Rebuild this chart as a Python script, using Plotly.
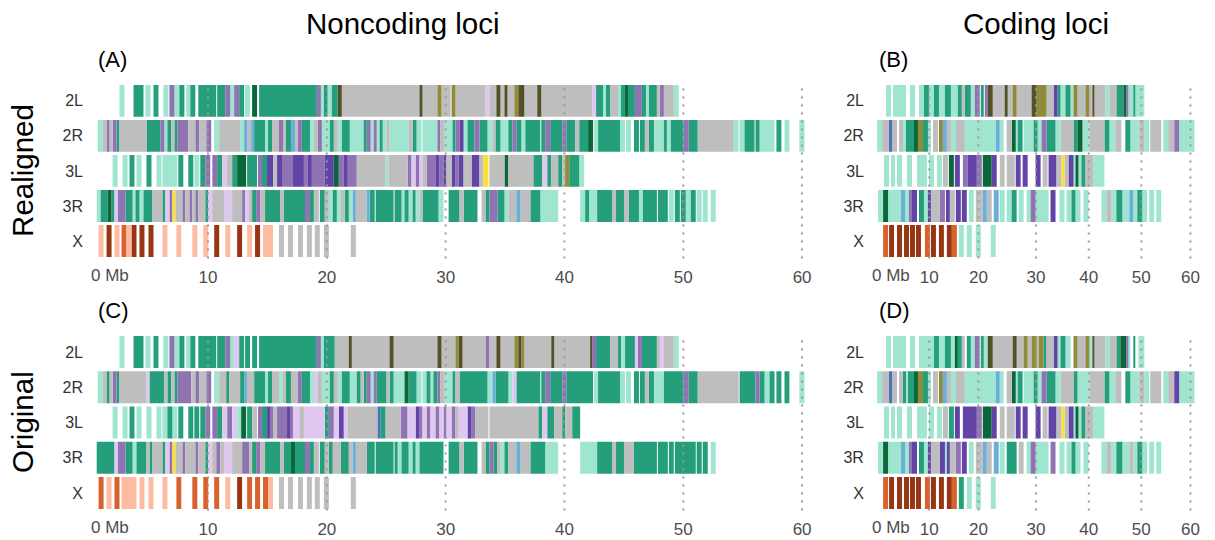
import plotly.graph_objects as go

# Chromosome arms, top to bottom
ROWS = ["2L", "2R", "3L", "3R", "X"]

# Segment colour classes
PALETTE = {
    "m": "#9fe5d0",  # light teal
    "t": "#259e7b",  # teal
    "g": "#0b6639",  # dark green
    "p": "#8f73b3",  # purple
    "P": "#6243a6",  # dark purple
    "l": "#dfc8f0",  # lavender
    "y": "#bebebe",  # grey
    "o": "#8f8b3b",  # olive
    "O": "#535027",  # dark olive
    "Y": "#fde035",  # yellow
    "b": "#6aafd8",  # light blue
    "B": "#4a70b8",  # blue
    "r": "#983513",  # rust
    "e": "#d8622d",  # orange
    "s": "#fdbca2",  # salmon
}

# ---------------- Noncoding loci, realigned (A) ----------------
A_2L = [(2.55, 2.97, "m"), (3.73, 4.57, "t"), (4.73, 5.15, "m"), (5.41, 5.83, "t"), (6.24, 6.66, "m"),
        (6.75, 7.17, "p"), (7.17, 7.59, "m"), (7.59, 8.01, "t"), (8.17, 8.51, "m"), (8.51, 8.93, "t"),
        (9.18, 10.69, "t"), (10.77, 11.45, "t"), (11.45, 11.87, "p"), (11.87, 12.2, "m"), (12.2, 12.62, "p"),
        (12.62, 13.04, "t"), (13.12, 13.54, "m"), (13.71, 14.13, "g"), (14.3, 19.16, "t"), (19.16, 19.5, "p"),
        (19.5, 19.75, "m"), (19.75, 20.06, "t"), (20.06, 20.42, "m"), (20.42, 20.92, "t"), (20.92, 21.26, "O"),
        (21.26, 27.8, "y"), (27.8, 28.05, "O"), (28.05, 29.31, "y"), (29.31, 29.65, "o"), (29.65, 30.42, "y"),
        (30.5, 30.83, "o"), (30.83, 33.35, "y"), (33.35, 33.69, "l"), (33.69, 34.27, "y"), (34.27, 34.61, "O"),
        (34.61, 34.95, "y"), (34.95, 35.2, "O"), (35.2, 35.78, "y"), (35.78, 36.12, "o"), (36.12, 36.62, "O"),
        (36.62, 37.71, "y"), (37.71, 38.05, "O"), (38.05, 42.33, "y"), (42.33, 42.66, "l"), (42.66, 43.25, "t"),
        (43.25, 43.5, "m"), (43.5, 43.84, "t"), (43.84, 44.51, "y"), (44.51, 44.76, "m"), (44.76, 45.1, "t"),
        (45.1, 45.35, "g"), (45.35, 45.93, "t"), (45.93, 46.52, "p"), (46.52, 46.86, "t"), (46.86, 47.11, "m"),
        (47.11, 47.78, "t"), (47.78, 48.03, "y"), (48.03, 48.37, "p"), (48.37, 49.2, "y"), (49.2, 49.62, "m")]
A_2R = [(0.71, 1.13, "m"), (1.13, 1.46, "y"), (1.46, 1.72, "p"), (1.72, 1.97, "y"), (1.97, 2.3, "p"),
        (2.3, 2.55, "t"), (2.55, 4.82, "y"), (4.82, 5.99, "t"), (5.99, 6.33, "p"), (6.33, 6.58, "m"),
        (6.58, 6.92, "t"), (6.92, 7.17, "y"), (7.17, 7.42, "t"), (7.42, 8.34, "p"), (8.34, 8.93, "y"),
        (8.93, 9.26, "p"), (9.26, 9.85, "y"), (9.85, 10.27, "p"), (10.52, 10.94, "m"), (10.94, 12.7, "y"),
        (12.7, 13.04, "m"), (13.04, 13.29, "b"), (13.29, 13.63, "y"), (13.63, 13.88, "b"), (13.88, 14.8, "t"),
        (14.8, 15.05, "m"), (15.05, 15.39, "t"), (15.39, 15.97, "y"), (15.97, 16.31, "p"), (16.31, 16.56, "y"),
        (16.56, 16.98, "t"), (16.98, 17.32, "b"), (17.32, 17.57, "y"), (17.57, 17.9, "p"), (17.9, 18.58, "t"),
        (18.58, 18.91, "m"), (18.91, 19.25, "y"), (19.25, 19.58, "p"), (19.58, 20.25, "m"), (20.25, 20.59, "t"),
        (20.59, 20.92, "y"), (20.92, 21.26, "m"), (21.26, 21.93, "t"), (21.93, 23.1, "m"), (23.1, 23.36, "t"),
        (23.36, 23.69, "p"), (23.69, 23.94, "m"), (23.94, 24.2, "p"), (24.2, 24.45, "m"), (24.45, 24.7, "t"),
        (24.7, 25.03, "m"), (25.03, 25.28, "y"), (25.28, 26.88, "m"), (26.88, 27.22, "y"), (27.22, 27.55, "t"),
        (27.55, 27.97, "m"), (28.05, 29.31, "m"), (29.31, 29.56, "p"), (29.56, 29.9, "y"), (29.9, 30.58, "m"),
        (30.58, 30.83, "t"), (30.83, 31.17, "p"), (31.17, 31.51, "P"), (31.51, 31.84, "m"), (31.84, 32.43, "t"),
        (32.43, 32.85, "p"), (32.85, 33.52, "t"), (33.52, 33.94, "m"), (33.94, 34.19, "y"), (34.19, 34.61, "t"),
        (34.61, 35.28, "m"), (35.28, 35.62, "t"), (35.62, 35.95, "p"), (35.95, 36.37, "t"), (36.37, 36.71, "m"),
        (36.71, 37.97, "t"), (38.05, 38.38, "t"), (38.38, 38.8, "p"), (38.8, 39.81, "t"), (39.81, 40.15, "p"),
        (40.15, 40.9, "t"), (40.9, 41.24, "y"), (41.24, 41.99, "t"), (41.99, 42.41, "g"), (42.49, 42.83, "m"),
        (42.83, 44.68, "t"), (44.68, 45.1, "m"), (45.18, 45.6, "m"), (45.85, 46.27, "t"), (46.35, 46.77, "t"),
        (46.77, 47.11, "y"), (47.11, 47.53, "t"), (47.53, 48.37, "m"), (48.37, 48.62, "t"), (48.62, 48.95, "m"),
        (48.95, 50.04, "t"), (50.04, 50.46, "p"), (50.46, 51.22, "t"), (51.22, 54.24, "y"), (54.24, 54.66, "m"),
        (54.74, 55.16, "m"), (55.16, 56.0, "t"), (56.08, 56.42, "t"), (56.42, 57.68, "m"), (57.84, 58.26, "t"),
        (58.52, 58.93, "m"), (59.77, 60.2, "m")]
A_3L = [(1.97, 2.39, "m"), (2.81, 3.23, "m"), (3.39, 3.81, "t"), (3.98, 4.4, "m"), (4.82, 5.24, "t"),
        (5.66, 6.08, "m"), (6.16, 7.42, "m"), (7.5, 7.92, "t"), (8.34, 8.76, "t"), (8.85, 9.26, "m"),
        (9.35, 9.77, "t"), (9.77, 10.19, "p"), (10.36, 10.77, "p"), (10.77, 11.19, "t"), (11.19, 11.61, "l"),
        (11.61, 12.03, "y"), (12.03, 12.45, "t"), (12.45, 13.21, "g"), (13.29, 14.13, "t"), (14.21, 14.55, "p"),
        (14.55, 14.97, "t"), (14.97, 15.47, "P"), (15.47, 15.81, "y"), (15.81, 16.23, "P"), (16.23, 17.15, "p"),
        (17.15, 18.07, "P"), (18.07, 18.41, "p"), (18.41, 18.74, "P"), (18.74, 19.83, "p"), (19.83, 20.59, "P"),
        (20.59, 21.01, "g"), (21.01, 21.43, "p"), (21.43, 21.76, "P"), (21.76, 22.52, "p"), (22.52, 24.95, "y"),
        (24.95, 25.2, "m"), (25.2, 26.8, "y"), (26.8, 27.13, "p"), (27.13, 27.47, "l"), (27.47, 27.8, "p"),
        (27.8, 28.05, "l"), (28.05, 28.39, "y"), (28.39, 29.14, "p"), (29.14, 29.48, "P"), (29.48, 29.82, "p"),
        (29.82, 30.07, "P"), (30.07, 30.5, "y"), (30.5, 30.83, "P"), (30.83, 31.09, "p"), (31.09, 31.51, "P"),
        (31.51, 32.18, "y"), (32.18, 32.85, "P"), (32.85, 33.18, "y"), (33.18, 33.6, "Y"), (33.69, 34.95, "y"),
        (34.95, 35.28, "g"), (35.28, 37.38, "y"), (37.38, 38.13, "t"), (38.13, 38.55, "l"), (38.55, 38.89, "t"),
        (38.89, 39.47, "y"), (39.47, 39.81, "t"), (39.81, 40.06, "y"), (40.06, 40.4, "o"), (40.4, 41.24, "t"),
        (41.24, 41.66, "m")]
A_3R = [(0.63, 0.96, "m"), (0.96, 1.55, "t"), (1.55, 1.88, "g"), (1.88, 2.13, "t"), (2.13, 2.39, "l"),
        (2.39, 3.06, "p"), (3.06, 3.65, "t"), (3.65, 3.9, "m"), (3.9, 4.23, "t"), (4.23, 4.57, "m"),
        (4.57, 5.32, "t"), (5.32, 6.16, "y"), (6.16, 6.41, "t"), (6.41, 6.75, "l"), (6.75, 7.0, "p"),
        (7.0, 7.25, "Y"), (7.25, 7.84, "y"), (7.84, 8.09, "p"), (8.09, 8.43, "y"), (8.43, 8.68, "p"),
        (8.68, 8.93, "y"), (8.93, 9.18, "p"), (9.18, 9.77, "y"), (9.77, 10.02, "t"), (10.02, 10.36, "l"),
        (10.36, 11.36, "y"), (11.36, 12.03, "l"), (12.03, 12.87, "y"), (12.87, 13.12, "p"), (13.12, 13.46, "l"),
        (13.46, 13.71, "y"), (13.71, 14.05, "t"), (14.05, 14.38, "p"), (14.38, 14.8, "y"), (14.8, 16.06, "t"),
        (16.06, 16.39, "y"), (16.39, 18.16, "t"), (18.16, 18.58, "p"), (18.58, 18.91, "t"), (18.91, 19.33, "y"),
        (19.41, 19.83, "t"), (19.83, 20.17, "y"), (20.17, 20.5, "m"), (20.5, 20.84, "t"), (20.84, 21.18, "m"),
        (21.18, 21.51, "y"), (21.51, 21.85, "t"), (21.85, 22.18, "m"), (22.18, 22.44, "b"), (22.44, 23.36, "y"),
        (23.36, 23.61, "b"), (23.61, 24.03, "t"), (24.11, 25.62, "t"), (25.7, 26.29, "t"), (26.29, 26.54, "m"),
        (26.54, 26.88, "t"), (26.88, 27.22, "m"), (27.22, 27.47, "t"), (27.47, 27.8, "m"), (27.8, 28.05, "y"),
        (28.05, 29.4, "t"), (29.4, 29.82, "m"), (30.25, 31.17, "t"), (31.17, 31.51, "y"), (31.51, 32.68, "t"),
        (33.02, 33.35, "y"), (33.35, 33.69, "t"), (33.69, 34.36, "p"), (34.36, 34.95, "t"), (34.95, 35.28, "m"),
        (35.28, 35.95, "y"), (35.95, 36.29, "b"), (36.29, 37.13, "y"), (37.13, 37.97, "t"), (37.97, 39.47, "m"),
        (41.32, 41.74, "m"), (41.74, 42.07, "t"), (42.07, 42.75, "m"), (42.75, 44.0, "t"), (44.0, 44.34, "y"),
        (44.34, 45.01, "t"), (45.01, 45.43, "y"), (45.43, 46.27, "t"), (46.27, 46.6, "m"), (46.6, 47.78, "t"),
        (47.86, 48.7, "t"), (48.79, 49.2, "m"), (49.29, 49.71, "t"), (49.79, 50.21, "t"), (50.21, 50.63, "m"),
        (50.63, 51.05, "t"), (51.13, 51.55, "m"), (51.64, 52.06, "m"), (52.31, 52.73, "m")]
A_X = [(0.79, 1.21, "s"), (1.46, 1.88, "r"), (2.13, 2.55, "s"), (2.72, 3.14, "e"), (3.14, 3.56, "s"),
       (3.56, 3.98, "r"), (4.23, 4.65, "r"), (4.99, 5.41, "r"), (6.16, 6.58, "s"), (7.34, 7.75, "s"),
       (8.68, 9.1, "s"), (9.6, 10.02, "s"), (10.52, 10.94, "r"), (11.45, 11.87, "s"), (12.45, 12.87, "r"),
       (13.29, 13.71, "s"), (13.96, 14.38, "r"), (14.63, 15.47, "s"), (15.97, 16.39, "y"), (16.73, 17.15, "y"),
       (17.57, 17.99, "y"), (18.32, 18.74, "y"), (18.99, 19.41, "y"), (19.75, 20.17, "y"), (22.02, 22.44, "y")]

# ---------------- Noncoding loci, original (C) ----------------
C_2L = [(2.55, 2.97, "m"), (3.73, 4.57, "t"), (4.73, 5.15, "m"), (5.41, 5.83, "t"), (6.24, 6.66, "m"),
        (6.75, 7.17, "p"), (7.17, 7.59, "m"), (7.59, 8.01, "t"), (8.17, 8.51, "m"), (8.51, 8.93, "t"),
        (9.18, 10.69, "t"), (10.77, 11.45, "t"), (11.45, 11.87, "p"), (11.87, 12.2, "m"), (12.2, 12.62, "l"),
        (12.62, 13.04, "t"), (13.12, 13.54, "t"), (13.71, 14.13, "t"), (14.3, 19.16, "t"), (19.16, 19.5, "p"),
        (19.5, 19.75, "m"), (19.75, 20.67, "t"), (20.67, 21.85, "y"), (21.85, 22.1, "O"), (22.1, 25.28, "y"),
        (25.28, 25.62, "O"), (25.62, 29.31, "y"), (29.31, 29.65, "O"), (29.65, 30.83, "y"), (30.83, 31.09, "o"),
        (31.09, 31.42, "O"), (31.42, 33.35, "y"), (33.35, 33.69, "p"), (33.69, 34.27, "y"), (34.27, 34.61, "O"),
        (34.61, 35.78, "y"), (35.78, 36.12, "o"), (36.12, 36.37, "O"), (36.37, 36.62, "o"), (36.62, 38.89, "y"),
        (38.89, 39.14, "O"), (39.14, 42.16, "y"), (42.16, 42.33, "O"), (42.33, 42.66, "p"), (42.66, 43.84, "t"),
        (43.84, 44.51, "y"), (44.51, 44.76, "t"), (44.76, 45.1, "m"), (45.1, 45.93, "t"), (45.93, 46.18, "l"),
        (46.18, 46.52, "p"), (46.52, 47.78, "t"), (47.78, 48.03, "y"), (48.03, 48.37, "l"), (48.37, 49.2, "y"),
        (49.2, 49.62, "m")]
C_2R = [(0.71, 1.13, "m"), (1.13, 1.46, "y"), (1.46, 1.72, "t"), (1.72, 1.97, "y"), (1.97, 2.3, "p"),
        (2.3, 2.55, "t"), (2.55, 4.82, "y"), (4.82, 5.07, "l"), (5.07, 6.33, "t"), (6.33, 6.58, "y"),
        (6.58, 6.92, "t"), (6.92, 7.17, "y"), (7.17, 7.42, "t"), (7.42, 8.59, "p"), (8.59, 8.93, "y"),
        (8.93, 9.26, "p"), (9.26, 9.85, "y"), (9.85, 10.27, "p"), (10.52, 10.94, "m"), (10.94, 11.53, "y"),
        (11.53, 11.78, "t"), (11.78, 12.7, "y"), (12.7, 13.04, "t"), (13.04, 13.29, "b"), (13.29, 13.88, "y"),
        (13.88, 14.8, "t"), (14.8, 15.05, "m"), (15.05, 15.39, "t"), (15.39, 15.97, "y"), (15.97, 16.31, "m"),
        (16.31, 16.56, "y"), (16.56, 16.98, "t"), (16.98, 17.57, "y"), (17.57, 17.9, "p"), (17.9, 18.58, "t"),
        (18.58, 18.91, "m"), (18.91, 19.25, "l"), (19.25, 19.58, "y"), (19.58, 20.25, "m"), (20.25, 20.59, "t"),
        (20.59, 20.92, "y"), (20.92, 21.26, "m"), (21.26, 21.93, "t"), (21.93, 22.52, "m"), (22.52, 22.85, "t"),
        (22.85, 23.1, "y"), (23.1, 23.36, "t"), (23.36, 23.69, "p"), (23.69, 23.94, "m"), (23.94, 24.2, "p"),
        (24.2, 25.03, "t"), (25.03, 25.28, "y"), (25.28, 25.62, "t"), (25.62, 26.54, "m"), (26.54, 26.88, "g"),
        (26.88, 27.55, "t"), (27.55, 27.97, "m"), (28.05, 28.39, "m"), (28.39, 28.72, "t"), (28.72, 28.97, "m"),
        (28.97, 29.31, "t"), (29.31, 29.56, "p"), (29.56, 29.9, "y"), (29.9, 30.58, "m"), (30.58, 30.83, "t"),
        (30.83, 31.17, "y"), (31.17, 33.52, "t"), (33.52, 33.94, "m"), (33.94, 34.19, "b"), (34.19, 35.28, "t"),
        (35.28, 35.62, "m"), (35.62, 35.95, "l"), (35.95, 37.97, "t"), (38.05, 38.38, "t"), (38.38, 38.8, "p"),
        (38.8, 39.81, "t"), (39.81, 40.15, "p"), (40.15, 42.41, "t"), (42.49, 42.83, "m"), (42.83, 44.68, "t"),
        (44.68, 45.1, "m"), (45.18, 45.6, "m"), (45.85, 46.27, "t"), (46.35, 46.77, "t"), (46.77, 47.11, "y"),
        (47.11, 47.53, "t"), (47.53, 48.37, "m"), (48.37, 50.04, "t"), (50.04, 50.46, "p"), (50.46, 51.22, "t"),
        (51.22, 54.66, "y"), (54.74, 56.08, "t"), (56.08, 56.42, "p"), (56.42, 56.84, "t"), (56.84, 57.26, "m"),
        (57.26, 57.68, "t"), (57.84, 58.26, "t"), (58.52, 58.93, "t"), (59.77, 60.2, "m")]
C_3L = [(1.97, 2.39, "m"), (2.81, 3.23, "m"), (3.39, 3.81, "t"), (3.98, 4.4, "m"), (4.82, 5.24, "m"),
        (5.66, 6.08, "m"), (6.16, 6.58, "m"), (6.58, 7.0, "t"), (7.0, 7.42, "m"), (7.5, 7.92, "t"),
        (8.34, 8.76, "t"), (8.85, 9.26, "t"), (9.35, 9.77, "t"), (9.77, 10.19, "p"), (10.36, 10.77, "p"),
        (10.77, 11.19, "t"), (11.19, 11.61, "l"), (11.61, 12.03, "p"), (12.03, 12.45, "l"), (12.45, 12.79, "m"),
        (12.79, 13.21, "g"), (13.29, 13.71, "t"), (13.71, 14.13, "y"), (14.21, 14.55, "p"), (14.55, 14.97, "t"),
        (14.97, 15.22, "P"), (15.22, 15.47, "p"), (15.47, 15.81, "y"), (15.81, 16.65, "p"), (16.65, 16.9, "P"),
        (16.9, 17.15, "p"), (17.15, 17.74, "l"), (17.74, 18.07, "y"), (18.07, 19.83, "l"), (19.83, 20.17, "t"),
        (20.17, 20.59, "p"), (20.59, 21.01, "l"), (21.01, 21.43, "P"), (21.43, 21.76, "l"), (21.76, 24.28, "y"),
        (24.28, 24.53, "B"), (24.53, 24.95, "t"), (24.95, 26.21, "y"), (26.21, 26.8, "p"), (26.8, 27.47, "l"),
        (27.47, 27.8, "P"), (27.8, 28.05, "p"), (28.05, 28.39, "l"), (28.39, 28.72, "p"), (28.72, 29.14, "l"),
        (29.14, 29.48, "p"), (29.48, 29.82, "l"), (29.82, 30.07, "p"), (30.08, 30.5, "l"), (30.5, 30.83, "p"),
        (30.83, 31.09, "y"), (31.09, 31.84, "l"), (31.84, 32.18, "P"), (32.18, 32.51, "p"), (32.51, 33.6, "y"),
        (33.69, 37.8, "y"), (37.8, 38.13, "t"), (38.13, 38.55, "l"), (38.55, 39.14, "t"), (39.14, 39.81, "y"),
        (39.81, 40.06, "t"), (40.06, 40.65, "y"), (40.65, 41.32, "t")]
C_3R = [(0.63, 2.13, "t"), (2.13, 2.39, "l"), (2.39, 3.06, "p"), (3.06, 3.65, "t"), (3.65, 3.98, "m"),
        (3.98, 4.82, "t"), (4.82, 5.07, "y"), (5.07, 5.32, "t"), (5.32, 6.16, "y"), (6.16, 6.41, "t"),
        (6.41, 6.75, "l"), (6.75, 7.0, "p"), (7.0, 7.25, "Y"), (7.25, 7.84, "y"), (7.84, 8.09, "p"),
        (8.09, 8.93, "y"), (8.93, 9.18, "p"), (9.18, 9.77, "y"), (9.77, 10.02, "t"), (10.02, 10.36, "l"),
        (10.36, 10.69, "y"), (10.69, 11.03, "p"), (11.03, 11.36, "y"), (11.36, 12.03, "l"), (12.03, 12.87, "y"),
        (12.87, 13.46, "p"), (13.46, 13.71, "y"), (13.71, 14.05, "t"), (14.05, 14.38, "p"), (14.38, 14.8, "y"),
        (14.8, 16.06, "t"), (16.06, 16.39, "y"), (16.39, 16.98, "t"), (16.98, 17.32, "g"), (17.32, 18.16, "t"),
        (18.16, 18.58, "p"), (18.58, 18.91, "t"), (18.91, 19.33, "y"), (19.41, 19.83, "t"), (19.83, 20.17, "y"),
        (20.17, 20.5, "t"), (20.5, 21.18, "y"), (21.18, 21.85, "t"), (21.85, 22.18, "y"), (22.18, 22.44, "b"),
        (22.44, 23.36, "y"), (23.36, 24.03, "t"), (24.11, 25.62, "t"), (25.7, 25.96, "t"), (25.96, 26.29, "m"),
        (26.29, 26.88, "t"), (26.88, 27.22, "m"), (27.22, 27.47, "t"), (27.47, 27.8, "m"), (27.8, 29.82, "t"),
        (30.25, 31.17, "t"), (31.17, 31.51, "y"), (31.51, 32.68, "t"), (33.02, 33.35, "y"), (33.35, 33.69, "t"),
        (33.69, 34.02, "p"), (34.02, 34.36, "t"), (34.36, 34.61, "y"), (34.61, 34.95, "m"), (34.95, 35.28, "t"),
        (35.28, 35.95, "y"), (35.95, 36.29, "b"), (36.29, 37.13, "y"), (37.13, 38.38, "t"), (38.38, 39.47, "m"),
        (41.32, 42.75, "m"), (42.75, 44.0, "t"), (44.0, 44.34, "y"), (44.34, 45.01, "t"), (45.01, 45.85, "y"),
        (45.85, 47.78, "t"), (47.86, 48.7, "t"), (48.79, 49.2, "t"), (49.29, 51.05, "t"), (51.13, 51.55, "t"),
        (51.64, 52.06, "t"), (52.31, 52.73, "m")]
C_X = [(0.79, 1.21, "e"), (1.46, 1.88, "s"), (2.13, 2.55, "e"), (2.72, 3.98, "s"), (4.23, 4.65, "s"),
       (4.99, 5.41, "s"), (6.16, 6.58, "s"), (7.34, 7.75, "e"), (8.68, 9.1, "e"), (9.6, 10.02, "e"),
       (10.52, 10.94, "e"), (11.45, 11.87, "s"), (12.45, 12.87, "r"), (13.29, 13.71, "e"), (13.96, 14.38, "e"),
       (14.63, 15.05, "e"), (15.05, 15.47, "s"), (15.97, 16.39, "y"), (16.73, 17.15, "y"), (17.57, 17.99, "y"),
       (18.32, 18.74, "y"), (18.99, 19.41, "y"), (19.75, 20.17, "y"), (22.02, 22.44, "y")]

# ---------------- Coding loci, realigned (B) ----------------
B_2L = [(2.99, 3.92, "m"), (4.3, 6.72, "m"), (7.47, 8.4, "m"), (9.15, 10.08, "m"), (10.08, 11.02, "t"),
        (11.02, 11.95, "m"), (11.95, 12.89, "t"), (12.89, 14.01, "m"), (14.01, 15.13, "t"), (15.13, 16.43, "m"),
        (16.43, 17.18, "t"), (17.18, 17.74, "y"), (17.74, 18.86, "t"), (18.86, 19.61, "m"), (19.61, 20.54, "p"),
        (20.73, 21.29, "t"), (21.48, 22.04, "p"), (22.04, 22.97, "O"), (22.97, 25.21, "y"), (25.21, 25.77, "O"),
        (25.77, 26.7, "y"), (26.7, 27.45, "o"), (27.45, 30.25, "y"), (30.25, 31.19, "O"), (31.19, 33.05, "o"),
        (33.05, 34.36, "y"), (34.36, 35.11, "P"), (35.11, 35.67, "t"), (35.67, 36.6, "m"), (36.6, 37.54, "t"),
        (37.54, 38.1, "m"), (38.1, 38.84, "o"), (38.84, 40.34, "y"), (40.34, 41.08, "o"), (41.08, 41.64, "y"),
        (41.64, 42.02, "O"), (42.02, 44.07, "y"), (44.07, 44.82, "m"), (44.82, 46.13, "y"), (46.13, 47.44, "t"),
        (47.44, 48.0, "g"), (48.0, 48.37, "p"), (48.37, 49.3, "m"), (49.3, 49.68, "t"), (49.68, 51.36, "m")]
B_2R = [(1.31, 2.24, "m"), (2.24, 3.55, "y"), (3.55, 4.11, "B"), (4.11, 5.04, "y"), (5.42, 6.16, "y"),
        (6.16, 6.72, "m"), (6.72, 8.22, "t"), (8.22, 8.96, "g"), (8.96, 9.9, "o"), (9.9, 10.83, "t"),
        (10.83, 11.39, "m"), (11.76, 12.7, "y"), (12.89, 13.63, "o"), (13.63, 14.38, "b"), (14.38, 15.13, "y"),
        (15.13, 16.06, "m"), (16.06, 17.74, "y"), (17.74, 23.53, "m"), (23.53, 24.28, "b"), (24.28, 25.02, "m"),
        (25.58, 26.52, "y"), (26.52, 27.27, "g"), (27.27, 27.64, "m"), (27.64, 28.57, "t"), (28.76, 30.63, "m"),
        (30.63, 31.37, "t"), (31.37, 32.12, "m"), (32.12, 33.05, "p"), (33.05, 34.73, "t"), (34.73, 35.67, "m"),
        (35.67, 38.1, "y"), (38.1, 38.84, "t"), (38.84, 39.78, "g"), (39.78, 41.08, "m"), (41.08, 43.89, "y"),
        (43.89, 44.82, "t"), (44.82, 45.94, "m"), (45.94, 47.06, "y"), (47.81, 48.74, "t"), (48.74, 50.42, "m"),
        (50.42, 51.36, "y"), (51.36, 52.29, "m"), (52.48, 54.53, "y"), (54.91, 55.84, "m"), (55.84, 56.96, "y"),
        (56.96, 57.89, "p"), (57.89, 60.76, "m")]
B_3L = [(2.61, 3.55, "m"), (3.92, 4.67, "m"), (5.04, 5.98, "m"), (6.91, 7.84, "m"), (8.78, 10.64, "m"),
        (11.02, 11.95, "m"), (12.51, 13.45, "m"), (13.63, 14.57, "y"), (14.75, 15.69, "g"), (15.87, 16.81, "P"),
        (17.37, 18.3, "p"), (18.3, 19.98, "P"), (19.98, 20.92, "p"), (21.1, 22.78, "g"), (22.78, 23.72, "P"),
        (24.28, 25.21, "y"), (25.58, 27.08, "y"), (27.27, 28.2, "P"), (28.57, 29.51, "P"), (31.0, 31.94, "P"),
        (32.31, 33.24, "y"), (33.43, 34.92, "P"), (34.92, 35.86, "y"), (35.86, 36.42, "Y"), (36.42, 37.16, "y"),
        (37.16, 38.1, "P"), (38.1, 38.47, "m"), (38.47, 39.03, "g"), (39.03, 39.59, "m"), (39.59, 40.34, "t"),
        (40.34, 41.83, "y"), (41.83, 43.89, "m")]
B_3R = [(1.49, 2.43, "m"), (2.43, 3.36, "g"), (3.36, 5.79, "m"), (5.79, 6.54, "b"), (6.54, 7.28, "m"),
        (7.28, 7.84, "p"), (7.84, 8.78, "P"), (9.15, 10.08, "t"), (10.08, 10.83, "m"), (10.83, 11.39, "P"),
        (11.39, 13.07, "y"), (13.07, 14.01, "p"), (14.19, 14.94, "P"), (14.94, 15.87, "y"), (16.06, 16.99, "P"),
        (17.18, 18.11, "P"), (18.49, 19.42, "m"), (19.79, 21.1, "y"), (21.1, 21.85, "b"), (21.85, 22.78, "y"),
        (23.16, 24.09, "b"), (24.28, 25.21, "m"), (25.58, 26.52, "m"), (26.52, 27.45, "t"), (27.83, 28.76, "m"),
        (29.32, 30.07, "m"), (30.07, 31.0, "p"), (31.0, 33.43, "m"), (33.8, 34.73, "P"), (35.48, 36.42, "m"),
        (36.79, 37.72, "m"), (37.72, 38.47, "t"), (38.47, 39.4, "m"), (39.96, 40.9, "m"), (43.33, 44.26, "m"),
        (44.26, 45.19, "y"), (45.19, 46.13, "m"), (46.13, 47.25, "t"), (47.25, 48.55, "m"), (48.55, 49.3, "b"),
        (49.3, 50.05, "m"), (50.05, 50.98, "t"), (50.98, 51.92, "m"), (52.29, 53.22, "m"), (53.6, 54.53, "m")]
B_X = [(2.43, 3.36, "e"), (3.55, 4.48, "r"), (5.04, 5.98, "r"), (6.35, 7.28, "r"), (7.47, 8.4, "r"),
       (8.59, 9.52, "r"), (10.27, 11.2, "e"), (11.39, 12.33, "r"), (12.89, 13.82, "r"), (14.38, 15.31, "r"),
       (15.31, 16.25, "e"), (16.62, 17.55, "m"), (18.11, 19.05, "m"), (19.79, 20.73, "m"), (22.6, 23.53, "m")]

# ---------------- Coding loci, original (D) ----------------
D_2L = [(2.99, 3.92, "m"), (4.3, 6.72, "m"), (7.47, 8.4, "m"), (9.15, 11.95, "m"), (11.95, 12.89, "t"),
        (12.89, 14.01, "m"), (14.01, 15.13, "t"), (15.13, 15.87, "m"), (15.87, 16.43, "g"), (16.43, 17.18, "t"),
        (17.18, 17.74, "y"), (18.11, 18.86, "t"), (18.86, 19.61, "m"), (19.61, 20.54, "p"), (20.73, 21.29, "t"),
        (21.29, 22.04, "m"), (22.04, 22.97, "O"), (22.97, 26.7, "y"), (26.7, 27.45, "O"), (27.45, 28.76, "y"),
        (28.76, 29.51, "o"), (29.51, 30.25, "y"), (30.25, 31.19, "o"), (31.19, 31.56, "y"), (31.56, 32.49, "o"),
        (32.49, 33.05, "t"), (33.05, 34.36, "y"), (34.36, 35.11, "P"), (35.11, 35.67, "m"), (35.67, 36.6, "t"),
        (36.6, 37.54, "m"), (38.1, 38.84, "o"), (38.84, 40.34, "y"), (40.34, 41.08, "o"), (41.08, 41.64, "m"),
        (41.64, 42.02, "O"), (42.02, 44.07, "y"), (44.07, 44.82, "m"), (44.82, 46.13, "y"), (46.13, 46.87, "t"),
        (46.87, 48.0, "g"), (48.0, 48.37, "p"), (48.37, 48.74, "m"), (49.3, 49.68, "t"), (50.24, 51.36, "m")]
D_2R = [(1.31, 2.24, "m"), (2.24, 3.55, "y"), (3.55, 4.11, "B"), (4.11, 5.04, "y"), (5.42, 6.16, "y"),
        (6.16, 6.72, "t"), (6.72, 7.1, "m"), (7.1, 8.22, "t"), (8.22, 8.96, "g"), (8.96, 9.9, "o"),
        (9.9, 10.83, "t"), (10.83, 11.39, "m"), (11.76, 12.7, "y"), (12.89, 13.63, "o"), (13.63, 14.38, "b"),
        (14.38, 15.13, "y"), (15.13, 16.06, "m"), (16.06, 17.74, "y"), (17.74, 23.53, "m"), (23.53, 24.28, "b"),
        (24.28, 25.02, "m"), (25.58, 26.52, "y"), (26.52, 27.27, "g"), (27.27, 27.64, "m"), (27.64, 28.57, "t"),
        (28.76, 30.63, "m"), (30.63, 31.37, "t"), (31.37, 32.12, "m"), (32.12, 33.05, "p"), (33.05, 34.73, "t"),
        (34.73, 35.67, "m"), (35.67, 38.1, "y"), (38.1, 38.84, "t"), (38.84, 41.08, "m"), (41.08, 43.89, "y"),
        (43.89, 44.82, "t"), (44.82, 45.94, "m"), (45.94, 47.06, "y"), (47.81, 48.74, "t"), (48.74, 50.42, "m"),
        (50.42, 51.36, "y"), (51.36, 52.29, "m"), (52.48, 54.53, "y"), (54.91, 55.84, "m"), (55.84, 56.96, "y"),
        (56.96, 57.89, "P"), (57.89, 60.76, "m")]
D_3L = [(2.61, 3.55, "m"), (3.92, 4.67, "m"), (5.04, 5.98, "m"), (6.91, 7.84, "m"), (8.78, 10.64, "m"),
        (11.02, 11.95, "m"), (12.51, 13.45, "m"), (13.63, 14.57, "y"), (14.75, 15.69, "t"), (15.87, 16.81, "P"),
        (17.37, 19.98, "P"), (19.98, 20.92, "p"), (21.1, 22.78, "g"), (22.78, 23.72, "P"), (24.28, 25.21, "y"),
        (25.58, 27.08, "y"), (27.27, 28.2, "P"), (28.57, 29.51, "P"), (31.0, 31.94, "P"), (32.31, 33.24, "y"),
        (33.43, 34.92, "P"), (34.92, 35.86, "y"), (35.86, 36.42, "Y"), (36.42, 37.16, "y"), (37.16, 38.1, "P"),
        (38.1, 38.47, "m"), (38.47, 39.03, "g"), (39.03, 39.59, "m"), (39.59, 40.34, "t"), (40.34, 41.83, "y"),
        (41.83, 43.89, "m")]
D_3R = [(1.49, 2.43, "m"), (2.43, 3.36, "g"), (3.36, 5.79, "m"), (5.79, 6.54, "b"), (6.54, 7.28, "m"),
        (7.28, 7.84, "p"), (7.84, 8.78, "P"), (9.15, 10.08, "t"), (10.08, 10.83, "m"), (10.83, 11.39, "P"),
        (11.39, 13.07, "y"), (13.07, 14.01, "P"), (14.01, 14.38, "m"), (14.38, 14.94, "P"), (14.94, 16.06, "y"),
        (16.06, 16.99, "p"), (17.18, 18.11, "P"), (18.49, 19.42, "m"), (19.79, 21.1, "y"), (21.1, 21.85, "b"),
        (21.85, 22.78, "y"), (23.16, 24.09, "b"), (24.28, 25.21, "m"), (25.58, 27.45, "t"), (27.83, 28.76, "y"),
        (29.32, 30.07, "m"), (30.07, 31.0, "p"), (31.0, 33.43, "m"), (33.8, 34.73, "p"), (35.48, 36.42, "m"),
        (36.79, 37.72, "m"), (37.72, 38.47, "t"), (38.47, 39.4, "m"), (39.96, 40.9, "m"), (43.33, 44.26, "m"),
        (44.26, 45.19, "y"), (45.19, 46.13, "m"), (46.13, 47.25, "t"), (47.25, 48.55, "m"), (48.55, 49.3, "y"),
        (49.3, 50.05, "m"), (50.05, 50.98, "t"), (50.98, 51.92, "m"), (52.29, 53.22, "m"), (53.6, 54.53, "m")]
D_X = [(2.43, 3.36, "e"), (3.55, 4.48, "r"), (5.04, 5.98, "r"), (6.35, 7.28, "r"), (7.47, 8.4, "r"),
       (8.59, 9.52, "r"), (10.27, 11.2, "e"), (11.39, 12.33, "r"), (12.89, 13.82, "r"), (14.38, 15.31, "r"),
       (15.31, 16.25, "e"), (16.62, 17.55, "t"), (18.11, 19.05, "m"), (19.79, 20.73, "m"), (22.6, 23.53, "m")]

# Axis ticks: noncoding panels are linear in Mb; coding panels use locus-rank
# positions at which each Mb mark falls
NONCODING_TICK_POS = [10, 20, 30, 40, 50, 60]
CODING_TICK_POS = [11.08, 20.29, 31.06, 40.96, 50.8, 60.0]
TICK_TEXT = ["10", "20", "30", "40", "50", "60"]

PANELS = [
    # letter, rows, axis suffix, tick positions
    ("(A)", dict(zip(ROWS, [A_2L, A_2R, A_3L, A_3R, A_X])), "", NONCODING_TICK_POS),
    ("(B)", dict(zip(ROWS, [B_2L, B_2R, B_3L, B_3R, B_X])), "2", CODING_TICK_POS),
    ("(C)", dict(zip(ROWS, [C_2L, C_2R, C_3L, C_3R, C_X])), "3", NONCODING_TICK_POS),
    ("(D)", dict(zip(ROWS, [D_2L, D_2R, D_3L, D_3R, D_X])), "4", CODING_TICK_POS),
]

W, H = 1215, 540
FONT = "Liberation Sans, Arial, Helvetica, sans-serif"

# pixel geometry of the four panels
X_DOM = {"": (89.5, 810.7), "2": (873.0, 1199.7), "3": (89.5, 810.7), "4": (873.0, 1199.7)}
X_RANGE = {"": [0, 60.5], "2": [0, 61.0], "3": [0, 60.5], "4": [0, 61.0]}
Y_DOM = {"": (83.3, 258.5), "2": (83.3, 258.5), "3": (334.5, 510.5), "4": (334.5, 510.5)}

fig = go.Figure()
layout = dict(
    width=W, height=H, margin=dict(l=0, r=0, t=0, b=0), autosize=False,
    paper_bgcolor="white", plot_bgcolor="white", showlegend=False,
    barmode="overlay", font=dict(family=FONT), hovermode=False,
    shapes=[], annotations=[],
)

for letter, rows, sfx, ticks in PANELS:
    xa, ya = "x" + sfx, "y" + sfx
    for code, color in PALETTE.items():
        ys, base, width = [], [], []
        for row in ROWS:
            for s, e, c in rows[row]:
                if c == code:
                    ys.append(row)
                    base.append(s)
                    width.append(e - s)
        if not ys:
            continue
        fig.add_trace(go.Bar(
            y=ys, x=width, base=base, orientation="h", width=0.91,
            marker=dict(color=color, line=dict(width=0)),
            xaxis=xa, yaxis=ya, hoverinfo="skip",
        ))

    x0p, x1p = X_DOM[sfx]
    y0p, y1p = Y_DOM[sfx]
    layout["xaxis" + sfx] = dict(
        domain=[x0p / W, x1p / W], range=X_RANGE[sfx], anchor=ya,
        showgrid=False, zeroline=False, showline=False,
        tickmode="array", tickvals=ticks, ticktext=TICK_TEXT,
        ticks="outside", ticklen=3, tickcolor="rgba(0,0,0,0)",
        tickfont=dict(size=17, color="#4d4d4d", family=FONT),
    )
    layout["yaxis" + sfx] = dict(
        domain=[1 - y1p / H, 1 - y0p / H], anchor=xa,
        type="category", categoryorder="array", categoryarray=ROWS,
        range=[4.5, -0.5], showgrid=False, zeroline=False, showline=False,
        ticks="outside", ticklen=2, tickcolor="rgba(0,0,0,0)",
        tickfont=dict(size=16, color="#333333", family=FONT),
    )
    # dotted Mb guides drawn over the segments
    for tv in ticks:
        layout["shapes"].append(dict(
            type="line", xref=xa, yref=ya + " domain", x0=tv, x1=tv, y0=0, y1=1,
            line=dict(color="#9a9a9a", width=2, dash="2px,6px"), layer="above",
        ))
    # leftmost axis label
    layout["annotations"].append(dict(
        text="0 Mb", xref=xa, yref="paper", x=0, y=1 - (y1p + 16.5) / H,
        xanchor="left", yanchor="middle", showarrow=False,
        font=dict(size=17, color="#4d4d4d", family=FONT),
    ))
    # panel letter
    layout["annotations"].append(dict(
        text=letter, xref="paper", yref="paper", x=(x0p + 7) / W, y=1 - (y0p - 24) / H,
        xanchor="left", yanchor="middle", showarrow=False,
        font=dict(size=22, color="black", family=FONT),
    ))

for text, xc, yc, ang in [("Noncoding loci", 404, 23, 0), ("Coding loci", 1039, 23, 0),
                           ("Realigned", 22, 170, -90), ("Original", 22, 422, -90)]:
    layout["annotations"].append(dict(
        text=text, xref="paper", yref="paper", x=xc / W, y=1 - yc / H,
        xanchor="center", yanchor="middle", showarrow=False, textangle=ang,
        font=dict(size=29.5, color="black", family=FONT),
    ))

fig.update_layout(**layout)
fig.write_html("out.html")
